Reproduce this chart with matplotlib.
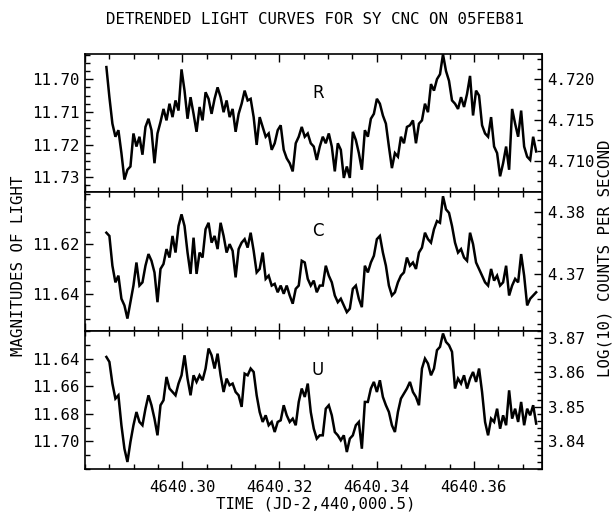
import numpy as np
import matplotlib
matplotlib.use("Agg")
import matplotlib.pyplot as plt
from matplotlib.ticker import MultipleLocator, FixedLocator, FormatStrFormatter

# ---------------- data ----------------
t_start, t_end = 4640.2844, 4640.3728

mag_R = [
    11.6963, 11.7055, 11.7136, 11.7176, 11.7156, 11.7226, 11.7307, 11.7277, 11.7267, 11.7166,
    11.7206, 11.7176, 11.7231, 11.7146, 11.7121, 11.7156, 11.7257, 11.7166, 11.7131, 11.7091,
    11.7126, 11.7075, 11.7116, 11.7065, 11.7096, 11.6970, 11.7035, 11.7121, 11.7055, 11.7106,
    11.7161, 11.7085, 11.7126, 11.7040, 11.7060, 11.7106, 11.7060, 11.7025, 11.7055, 11.7101,
    11.7065, 11.7116, 11.7091, 11.7161, 11.7106, 11.7075, 11.7035, 11.7065, 11.7060, 11.7116,
    11.7201, 11.7116, 11.7146, 11.7176, 11.7166, 11.7216, 11.7196, 11.7156, 11.7141, 11.7216,
    11.7242, 11.7257, 11.7282, 11.7196, 11.7176, 11.7146, 11.7176, 11.7166, 11.7196, 11.7206,
    11.7247, 11.7206,
    11.7176, 11.7196, 11.7166, 11.7206, 11.7282, 11.7196, 11.7216, 11.7302, 11.7267, 11.7302,
    11.7161, 11.7186, 11.7226, 11.7277, 11.7156, 11.7176, 11.7121, 11.7106, 11.7060, 11.7075,
    11.7111, 11.7136, 11.7206, 11.7272, 11.7226, 11.7237, 11.7176, 11.7196, 11.7146, 11.7141,
    11.7126, 11.7196, 11.7136, 11.7126, 11.7075, 11.7101, 11.7015, 11.7035, 11.7000, 11.6985,
    11.6924, 11.6975, 11.7005, 11.7065, 11.7075, 11.7091, 11.7055, 11.7085, 11.7045, 11.6990,
    11.7111, 11.7035, 11.7050, 11.7141, 11.7166, 11.7176, 11.7116, 11.7206, 11.7226, 11.7297,
    11.7257, 11.7206, 11.7277, 11.7091, 11.7136, 11.7176, 11.7096, 11.7206, 11.7237, 11.7247,
    11.7176, 11.7221,
]

mag_C = [
    11.6154, 11.6167, 11.6287, 11.6354, 11.6327, 11.6420, 11.6447, 11.6500, 11.6434, 11.6367,
    11.6274, 11.6367, 11.6354, 11.6287, 11.6240, 11.6267, 11.6314, 11.6434, 11.6300, 11.6280,
    11.6220, 11.6254, 11.6167, 11.6234, 11.6127, 11.6080, 11.6127, 11.6234, 11.6320, 11.6174,
    11.6320, 11.6234, 11.6254, 11.6140, 11.6114, 11.6194, 11.6167, 11.6220, 11.6114, 11.6167,
    11.6234, 11.6200, 11.6227, 11.6334, 11.6220, 11.6194, 11.6180, 11.6214, 11.6154, 11.6227,
    11.6314, 11.6300, 11.6234, 11.6340, 11.6327, 11.6367, 11.6360, 11.6394, 11.6367, 11.6400,
    11.6367, 11.6407, 11.6440, 11.6380, 11.6367, 11.6267, 11.6274, 11.6340, 11.6367, 11.6347,
    11.6394, 11.6367,
    11.6367, 11.6287, 11.6327, 11.6354, 11.6407, 11.6434, 11.6420, 11.6447, 11.6474, 11.6460,
    11.6380, 11.6367, 11.6420, 11.6454, 11.6287, 11.6314, 11.6274, 11.6247, 11.6180, 11.6167,
    11.6234, 11.6287, 11.6367, 11.6407, 11.6394, 11.6354, 11.6327, 11.6314, 11.6254, 11.6287,
    11.6274, 11.6300, 11.6234, 11.6214, 11.6154, 11.6180, 11.6194, 11.6140, 11.6107, 11.6114,
    11.6007, 11.6060, 11.6074, 11.6127, 11.6194, 11.6234, 11.6220, 11.6254, 11.6267, 11.6154,
    11.6200, 11.6274, 11.6300, 11.6327, 11.6354, 11.6367, 11.6300, 11.6347, 11.6327, 11.6367,
    11.6354, 11.6287, 11.6407, 11.6367, 11.6340, 11.6354, 11.6240, 11.6327, 11.6447, 11.6420,
    11.6407, 11.6394,
]

mag_U = [
    11.6388, 11.6424, 11.6581, 11.6690, 11.6666, 11.6883, 11.7053, 11.7149, 11.7004, 11.6883,
    11.6787, 11.6859, 11.6883, 11.6763, 11.6666, 11.6738, 11.6835, 11.6956, 11.6738, 11.6702,
    11.6533, 11.6617, 11.6642, 11.6666, 11.6581, 11.6521, 11.6376, 11.6545, 11.6666, 11.6521,
    11.6569, 11.6521, 11.6557, 11.6472, 11.6327, 11.6376, 11.6472, 11.6364, 11.6521, 11.6642,
    11.6545, 11.6593, 11.6581, 11.6642, 11.6666, 11.6750, 11.6509, 11.6521, 11.6472, 11.6497,
    11.6666, 11.6787, 11.6859, 11.6811, 11.6883, 11.6859, 11.6932, 11.6859, 11.6847, 11.6738,
    11.6811, 11.6859, 11.6835, 11.6883, 11.6714, 11.6617, 11.6678, 11.6581, 11.6787, 11.6908,
    11.6980, 11.6956,
    11.6956, 11.6763, 11.6738, 11.6811, 11.6932, 11.6956, 11.6992, 11.6956, 11.7077, 11.6980,
    11.6956, 11.6883, 11.6859, 11.7053, 11.6714, 11.6714, 11.6617, 11.6569, 11.6642, 11.6557,
    11.6678, 11.6738, 11.6787, 11.6883, 11.6932, 11.6787, 11.6690, 11.6654, 11.6617, 11.6569,
    11.6642, 11.6678, 11.6738, 11.6472, 11.6400, 11.6436, 11.6521, 11.6472, 11.6339, 11.6315,
    11.6218, 11.6279, 11.6303, 11.6351, 11.6617, 11.6545, 11.6581, 11.6521, 11.6617, 11.6545,
    11.6497, 11.6569, 11.6472, 11.6642, 11.6859, 11.6956, 11.6835, 11.6859, 11.6763, 11.6908,
    11.6811, 11.6883, 11.6630, 11.6835, 11.6763, 11.6859, 11.6714, 11.6883, 11.6763, 11.6811,
    11.6738, 11.6871,
]

panel_labels = ["R", "C", "U"]
series = [mag_R, mag_C, mag_U]
# magnitude zero points relating magnitude to log10 counts: m = C - 2.5 log10(N)
zero_points = [23.50, 22.557, 21.30]
mag_limits = [(11.7345, 11.6923), (11.6550, 11.5990), (11.7200, 11.6200)]
left_ticks = [[11.70, 11.71, 11.72, 11.73], [11.62, 11.64], [11.64, 11.66, 11.68, 11.70]]
left_minor = [0.0025, 0.005, 0.01]
right_ticks = [[4.720, 4.715, 4.710], [4.38, 4.37], [3.87, 3.86, 3.85, 3.84]]
right_minor = [0.00125, 0.002, 0.002]
right_fmt = ["%.3f", "%.2f", "%.2f"]

title = "DETRENDED LIGHT CURVES FOR SY CNC ON 05FEB81"
xlabel = "TIME (JD-2,440,000.5)"
ylabel_left = "MAGNITUDES OF LIGHT"
ylabel_right = "LOG(10) COUNTS PER SECOND"
x_ticks = [4640.30, 4640.32, 4640.34, 4640.36]

# ---------------- figure ----------------
mono = "DejaVu Sans Mono"
FS = 11.3
W, H = 614, 515
fig = plt.figure(figsize=(W / 100, H / 100), dpi=100)

left, right = 85 / W, 542 / W
edges = [54, 192, 331, 469]
axes = []
for i in range(3):
    top_px, bot_px = edges[i], edges[i + 1]
    ax = fig.add_axes([left, 1 - bot_px / H, right - left, (bot_px - top_px) / H])
    axes.append(ax)

for i, ax in enumerate(axes):
    y = np.asarray(series[i])
    t = np.linspace(t_start, t_end, len(y))
    ax.plot(t, y, color="black", lw=1.8, solid_joinstyle="miter")
    ax.set_xlim(4640.2800, 4640.3740)
    ax.set_ylim(*mag_limits[i])
    ax.xaxis.set_major_locator(MultipleLocator(0.02))
    ax.xaxis.set_minor_locator(MultipleLocator(0.005))
    ax.yaxis.set_major_locator(FixedLocator(left_ticks[i]))
    ax.yaxis.set_minor_locator(MultipleLocator(left_minor[i]))
    ax.yaxis.set_major_formatter(FormatStrFormatter("%.2f"))
    ax.tick_params(which="both", direction="in", top=True, bottom=True,
                   left=True, right=False, width=1.0)
    ax.tick_params(which="major", length=6)
    ax.tick_params(which="minor", length=3.5)
    ax.tick_params(axis="y", labelsize=FS, pad=4)
    for lab in ax.get_yticklabels():
        lab.set_family(mono)
    for sp in ax.spines.values():
        sp.set_linewidth(1.2)
    if i < 2:
        ax.tick_params(axis="x", labelbottom=False)
    else:
        ax.xaxis.set_major_locator(FixedLocator(x_ticks))
        ax.xaxis.set_major_formatter(FormatStrFormatter("%.2f"))
        ax.tick_params(axis="x", labelsize=FS, pad=8)
        for lab in ax.get_xticklabels():
            lab.set_family(mono)

    C = zero_points[i]
    sec = ax.secondary_yaxis("right",
                             functions=(lambda m, C=C: (C - m) / 2.5,
                                        lambda L, C=C: C - 2.5 * L))
    sec.yaxis.set_major_locator(FixedLocator(right_ticks[i]))
    sec.yaxis.set_minor_locator(MultipleLocator(right_minor[i]))
    sec.yaxis.set_major_formatter(FormatStrFormatter(right_fmt[i]))
    sec.tick_params(which="both", direction="in", width=1.0, labelsize=FS, pad=4)
    sec.tick_params(which="major", length=6)
    sec.tick_params(which="minor", length=3.5)
    for lab in sec.get_yticklabels():
        lab.set_family(mono)

    ax.text((318 - 85) / (542 - 85), 0.72, panel_labels[i], transform=ax.transAxes,
            fontsize=12, ha="center", va="center", family="DejaVu Sans")

fig.text(315 / W, 1 - 19 / H, title, ha="center", va="center",
         fontsize=FS, family=mono)
fig.text(316 / W, 1 - 504 / H, xlabel, ha="center", va="center",
         fontsize=FS, family=mono)
fig.text(19 / W, 1 - 266 / H, ylabel_left, ha="center", va="center",
         rotation=90, fontsize=FS, family=mono)
fig.text(605 / W, 1 - 258 / H, ylabel_right, ha="center", va="center",
         rotation=90, fontsize=FS, family=mono)

fig.savefig("out.png", dpi=100)
